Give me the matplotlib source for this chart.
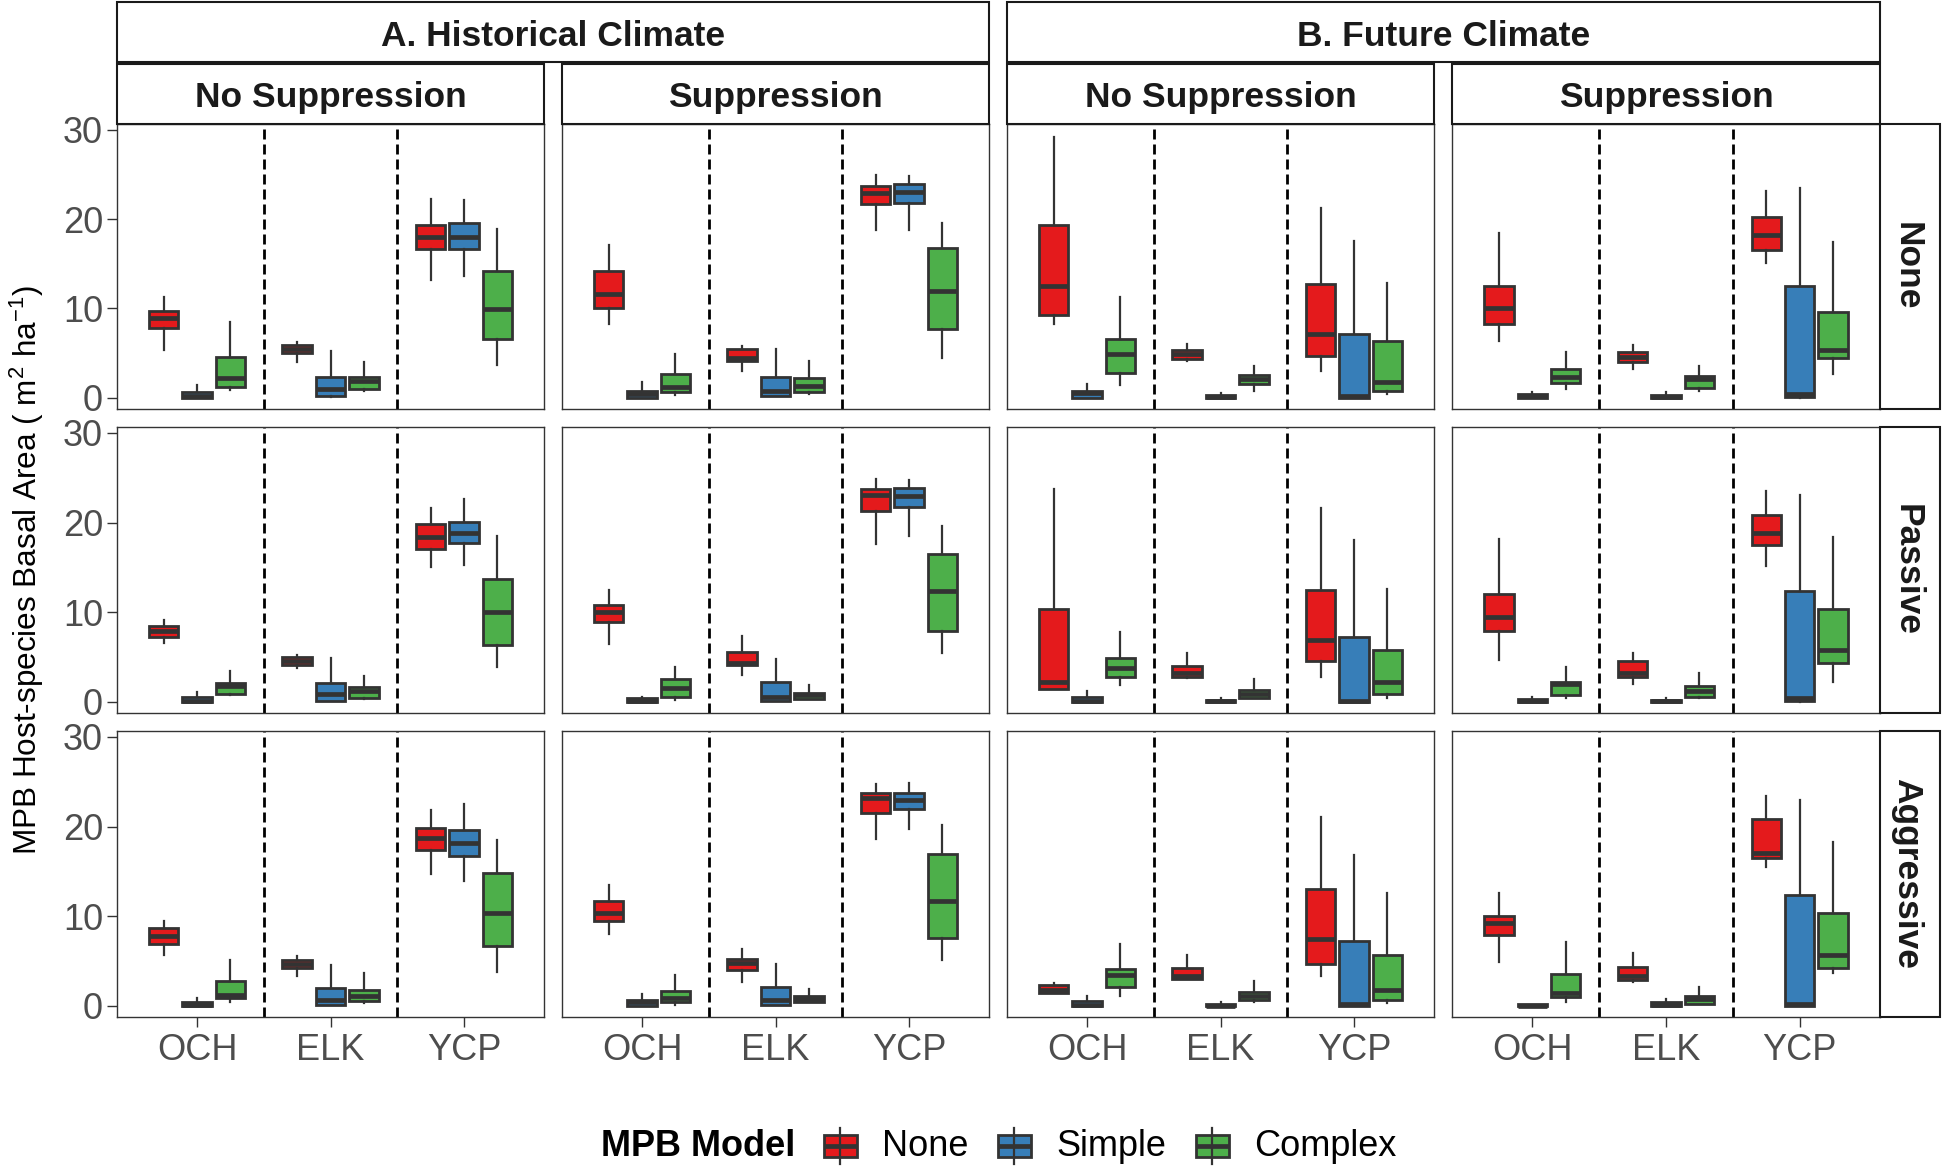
import matplotlib
matplotlib.use("Agg")
import matplotlib.pyplot as plt
from matplotlib.patches import Rectangle
from matplotlib.lines import Line2D

plt.rcParams['font.family'] = ['Liberation Sans', 'DejaVu Sans']
plt.rcParams['mathtext.fontset'] = 'custom'
plt.rcParams['mathtext.rm'] = 'Liberation Sans'
plt.rcParams['mathtext.it'] = 'Liberation Sans:italic'
plt.rcParams['mathtext.bf'] = 'Liberation Sans:bold'

# ---------------- data ----------------
sites = ["OCH", "ELK", "YCP"]
models = ["None", "Simple", "Complex"]
model_colors = ["#E41A1C", "#377EB8", "#4DAF4A"]
climates = ["A. Historical Climate", "B. Future Climate"]
suppression = ["No Suppression", "Suppression"]
treatments = ["None", "Passive", "Aggressive"]
y_ticks = [0, 10, 20, 30]

# each row: (whisker low, Q1, median, Q3, whisker high); order OCH(None,Simple,Complex), ELK(...), YCP(...)
hist_nosup_none = [
    (5.3, 7.8, 8.9, 9.7, 11.3), (0.0, 0.0, 0.2, 0.6, 1.4), (0.9, 1.2, 2.2, 4.6, 8.5),
    (4.0, 5.0, 5.4, 5.9, 6.2), (0.1, 0.15, 1.0, 2.3, 5.2), (0.7, 1.0, 1.9, 2.3, 4.0),
    (13.2, 16.7, 18.0, 19.4, 22.3), (13.6, 16.7, 18.0, 19.6, 22.2), (3.7, 6.6, 9.9, 14.2, 18.9)]
hist_sup_none = [
    (8.2, 10.1, 11.6, 14.2, 17.1), (0.0, 0.0, 0.4, 0.75, 1.7), (0.3, 0.6, 1.2, 2.65, 4.9),
    (3.0, 4.1, 4.5, 5.45, 5.8), (0.2, 0.2, 0.75, 2.35, 5.4), (0.4, 0.6, 1.35, 2.2, 4.1),
    (18.8, 21.7, 22.9, 23.7, 24.9), (18.8, 21.8, 23.0, 23.9, 24.8), (4.5, 7.7, 11.9, 16.8, 19.6)]
fut_nosup_none = [
    (8.3, 9.3, 12.5, 19.4, 29.2), (0.0, 0.0, 0.5, 0.7, 1.5), (1.4, 2.8, 4.9, 6.6, 11.3),
    (4.1, 4.3, 4.9, 5.3, 6.05), (0.0, 0.0, 0.1, 0.3, 0.5), (0.75, 1.5, 2.05, 2.5, 3.5),
    (3.0, 4.7, 7.1, 12.7, 21.3), (0.0, 0.0, 0.2, 7.1, 17.6), (0.4, 0.7, 1.8, 6.3, 12.9)]
fut_sup_none = [
    (6.35, 8.3, 10.0, 12.5, 18.5), (0.0, 0.0, 0.2, 0.4, 0.67), (1.0, 1.6, 2.35, 3.2, 5.1),
    (3.2, 4.0, 4.6, 5.15, 5.9), (0.0, 0.0, 0.1, 0.3, 0.6), (0.8, 1.1, 2.05, 2.4, 3.6),
    (15.1, 16.6, 18.2, 20.2, 23.2), (0.0, 0.1, 0.4, 12.5, 23.5), (2.7, 4.4, 5.3, 9.6, 17.4)]

hist_nosup_passive = [
    (6.6, 7.2, 7.9, 8.4, 9.1), (0.0, 0.0, 0.1, 0.56, 1.05), (0.7, 0.8, 1.7, 2.1, 3.4),
    (3.7, 4.1, 4.5, 5.0, 5.2), (0.1, 0.1, 0.8, 2.1, 4.9), (0.3, 0.4, 1.2, 1.6, 2.9),
    (15.0, 17.0, 18.4, 19.8, 21.6), (15.3, 17.7, 18.8, 20.1, 22.6), (3.9, 6.3, 10.0, 13.7, 18.5)]
hist_sup_passive = [
    (6.4, 8.9, 10.0, 10.8, 12.5), (0.0, 0.0, 0.1, 0.37, 0.56), (0.2, 0.5, 1.5, 2.5, 3.9),
    (3.0, 4.1, 4.3, 5.5, 7.3), (0.1, 0.1, 0.56, 2.2, 4.8), (0.3, 0.3, 0.7, 1.0, 1.9),
    (17.6, 21.3, 23.1, 23.7, 24.9), (18.5, 21.7, 23.0, 23.9, 24.8), (5.4, 7.9, 12.4, 16.5, 19.6)]
fut_nosup_passive = [
    (1.4, 1.4, 2.2, 10.4, 23.8), (0.0, 0.0, 0.1, 0.5, 1.2), (1.9, 2.8, 3.7, 4.9, 7.8),
    (2.6, 2.8, 3.2, 4.0, 5.4), (0.0, 0.0, 0.05, 0.2, 0.4), (0.4, 0.4, 0.8, 1.3, 2.5),
    (2.7, 4.5, 6.9, 12.5, 21.6), (0.0, 0.0, 0.1, 7.2, 18.1), (0.4, 0.8, 2.2, 5.8, 12.6)]
fut_sup_passive = [
    (4.6, 7.9, 9.4, 12.0, 18.2), (0.0, 0.0, 0.1, 0.3, 0.56), (0.4, 0.7, 2.0, 2.2, 3.9),
    (2.0, 2.7, 3.2, 4.5, 5.4), (0.0, 0.0, 0.05, 0.2, 0.4), (0.4, 0.5, 1.2, 1.7, 3.2),
    (15.2, 17.5, 18.8, 20.8, 23.5), (0.0, 0.05, 0.4, 12.4, 23.1), (2.2, 4.3, 5.8, 10.4, 18.4)]

hist_nosup_aggr = [
    (5.6, 6.9, 7.8, 8.7, 9.5), (0.0, 0.0, 0.1, 0.45, 0.86), (0.4, 0.86, 1.2, 2.7, 5.1),
    (3.3, 4.2, 4.6, 5.1, 5.5), (0.1, 0.1, 0.6, 2.0, 4.5), (0.3, 0.5, 1.1, 1.8, 3.6),
    (14.7, 17.4, 18.7, 19.8, 21.9), (13.9, 16.7, 18.2, 19.6, 22.5), (3.7, 6.7, 10.3, 14.8, 18.5)]
hist_sup_aggr = [
    (8.0, 9.4, 10.3, 11.7, 13.5), (0.0, 0.0, 0.4, 0.68, 1.3), (0.1, 0.4, 0.9, 1.6, 3.4),
    (2.6, 4.0, 4.8, 5.2, 6.3), (0.1, 0.1, 0.6, 2.1, 4.7), (0.4, 0.4, 0.75, 1.1, 1.9),
    (18.6, 21.5, 23.2, 23.8, 24.7), (19.7, 22.0, 23.0, 23.7, 24.9), (5.1, 7.6, 11.7, 16.9, 20.2)]
fut_nosup_aggr = [
    (1.4, 1.4, 1.7, 2.3, 2.55), (0.0, 0.0, 0.1, 0.56, 1.1), (1.05, 2.1, 3.4, 4.1, 6.9),
    (3.0, 3.0, 3.3, 4.2, 5.6), (0.0, 0.0, 0.0, 0.2, 0.4), (0.4, 0.6, 1.05, 1.5, 2.7),
    (3.3, 4.7, 7.4, 13.0, 21.1), (0.0, 0.0, 0.2, 7.2, 16.8), (0.3, 0.6, 1.8, 5.6, 12.6)]
fut_sup_aggr = [
    (4.9, 7.9, 9.25, 10.0, 12.6), (0.0, 0.0, 0.0, 0.2, 0.2), (0.4, 1.0, 1.4, 3.5, 7.1),
    (2.6, 2.9, 3.3, 4.3, 5.9), (0.0, 0.0, 0.1, 0.4, 0.75), (0.2, 0.2, 0.7, 1.1, 2.1),
    (15.5, 16.5, 17.0, 20.8, 23.4), (0.0, 0.0, 0.2, 12.3, 23.0), (3.6, 4.2, 5.6, 10.3, 18.3)]

grid = [
    [hist_nosup_none, hist_sup_none, fut_nosup_none, fut_sup_none],
    [hist_nosup_passive, hist_sup_passive, fut_nosup_passive, fut_sup_passive],
    [hist_nosup_aggr, hist_sup_aggr, fut_nosup_aggr, fut_sup_aggr],
]

# ---------------- layout ----------------
W, H = 1944, 1168
fig = plt.figure(figsize=(W / 100, H / 100), dpi=100)


def rect(x0, y0, x1, y1):
    return [x0 / W, 1 - y1 / H, (x1 - x0) / W, (y1 - y0) / H]


cols_x = [(117, 544), (562, 989), (1007, 1434), (1452, 1880)]
rows_y = [(124, 409), (427, 713), (731, 1017)]
EDGE = "#333333"
STRIP_EDGE = "#1A1A1A"
BOX_LW, MED_LW, WHI_LW = 2.0, 3.4, 1.6

for r in range(3):
    for c in range(4):
        ax = fig.add_axes(rect(cols_x[c][0], rows_y[r][0], cols_x[c][1], rows_y[r][1]))
        stats = grid[r][c]
        bstats, positions, colors = [], [], []
        for si in range(len(sites)):
            for mi in range(len(models)):
                lo, q1, med, q3, hi = stats[si * 3 + mi]
                bstats.append(dict(whislo=lo, q1=q1, med=med, q3=q3, whishi=hi, fliers=[]))
                positions.append(si + 1 + (mi - 1) * 0.25)
                colors.append(model_colors[mi])
        bp = ax.bxp(bstats, positions=positions, widths=0.22, patch_artist=True,
                    showcaps=False, showfliers=False,
                    boxprops=dict(edgecolor=EDGE, linewidth=BOX_LW),
                    medianprops=dict(color=EDGE, linewidth=MED_LW, solid_capstyle='butt'),
                    whiskerprops=dict(color=EDGE, linewidth=WHI_LW))
        for patch, col in zip(bp['boxes'], colors):
            patch.set_facecolor(col)
        for xv in (1.5, 2.5):
            ax.axvline(xv, color='black', lw=2.0, ls=(0, (3.6, 1.8)), zorder=0.5)
        ax.set_xlim(0.4, 3.6)
        ax.set_ylim(-1.27, 30.67)
        ax.set_xticks([1, 2, 3])
        ax.set_xticklabels(sites)
        ax.set_yticks(y_ticks)
        ax.set_yticklabels([str(v) for v in y_ticks])
        for sp in ax.spines.values():
            sp.set_color(EDGE)
            sp.set_linewidth(1.0)
        ax.tick_params(axis='y', length=7, width=1.0, color=EDGE, labelsize=26,
                       labelcolor='#4D4D4D', pad=3, left=(c == 0), labelleft=(c == 0))
        ax.tick_params(axis='x', length=7, width=1.0, color=EDGE, labelsize=26,
                       labelcolor='#4D4D4D', pad=4.5, bottom=(r == 2), labelbottom=(r == 2))


def strip(x0, y0, x1, y1, text, rotation=0):
    fig.add_artist(Rectangle((x0 / W, 1 - y1 / H), (x1 - x0) / W, (y1 - y0) / H,
                             transform=fig.transFigure, facecolor='white',
                             edgecolor=STRIP_EDGE, linewidth=1.5))
    if rotation == 0:
        tx, ty = (x0 + x1) / 2, (y0 + y1) / 2 + 4
    else:
        tx, ty = (x0 + x1) / 2 - 3, (y0 + y1) / 2
    fig.text(tx / W, 1 - ty / H, text, ha='center', va='center',
             fontsize=25.5, fontweight='bold', color='#1A1A1A', rotation=rotation)


strip(117, 2, 989, 62, climates[0])
strip(1007, 2, 1880, 62, climates[1])
for c in range(4):
    strip(cols_x[c][0], 64, cols_x[c][1], 124, suppression[c % 2])
for r in range(3):
    strip(1880, rows_y[r][0], 1940, rows_y[r][1], treatments[r], rotation=270)

fig.text(27 / W, 1 - 570 / H,
         r"MPB Host-species Basal Area ( $\mathregular{m^{2}\ ha^{-1}}$)",
         rotation=90, ha='center', va='center', fontsize=22.7, color='black')

# ---------------- legend ----------------
ly = 1146
fig.text(601 / W, 1 - ly / H, "MPB Model", ha='left', va='center', fontsize=26,
         fontweight='bold', color='black')
key_x = [818, 992, 1190]
ks = 44
for mi, (name, col) in enumerate(zip(models, model_colors)):
    kx = key_x[mi]
    ky0 = ly - ks / 2
    cx = kx + ks / 2
    fig.add_artist(Line2D([cx / W, cx / W], [1 - (ky0 + 0.1 * ks) / H, 1 - (ky0 + 0.9 * ks) / H],
                          transform=fig.transFigure, color=EDGE, lw=WHI_LW))
    fig.add_artist(Rectangle(((kx + 0.125 * ks) / W, 1 - (ky0 + 0.75 * ks) / H),
                             0.75 * ks / W, 0.5 * ks / H, transform=fig.transFigure,
                             facecolor=col, edgecolor=EDGE, lw=BOX_LW))
    fig.add_artist(Line2D([(kx + 0.125 * ks) / W, (kx + 0.875 * ks) / W],
                          [1 - ly / H, 1 - ly / H], transform=fig.transFigure,
                          color=EDGE, lw=MED_LW, solid_capstyle='butt'))
    fig.text((kx + ks + 20) / W, 1 - ly / H, name, ha='left', va='center',
             fontsize=26, color='black')

fig.savefig("out.png", dpi=100)
